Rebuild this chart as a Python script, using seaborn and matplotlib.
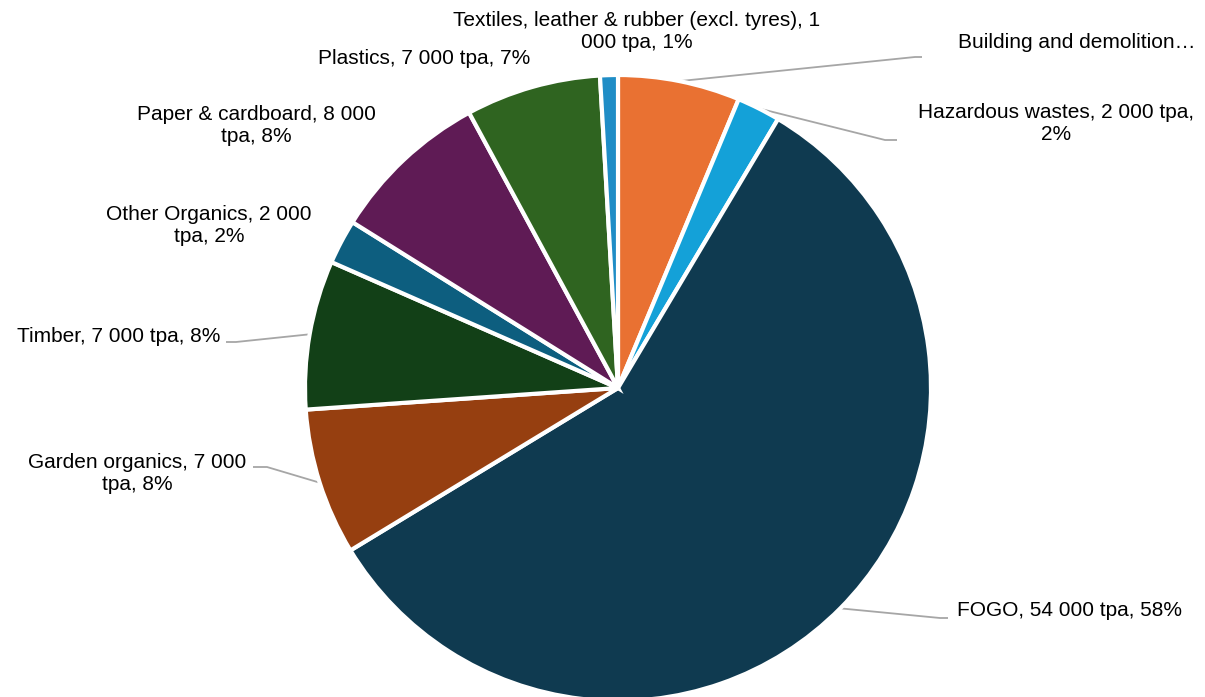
import numpy as np
import matplotlib
matplotlib.use("Agg")
import matplotlib.pyplot as plt
import seaborn as sns

# ---- data (tonnes per annum, estimated unrounded values) ----
categories = ["Building and demolition", "Hazardous wastes", "FOGO", "Garden organics",
              "Timber", "Other Organics", "Paper & cardboard", "Plastics",
              "Textiles, leather & rubber (excl. tyres)"]
tonnes = [5900, 2100, 54100, 7100, 7200, 2150, 7700, 6530, 860]
label_texts = [
    "Building and demolition\u2026",
    "Hazardous wastes, 2 000 tpa,\n2%",
    "FOGO, 54 000 tpa, 58%",
    "Garden organics, 7 000\ntpa, 8%",
    "Timber, 7 000 tpa, 8%",
    "Other Organics, 2 000\ntpa, 2%",
    "Paper & cardboard, 8 000\ntpa, 8%",
    "Plastics, 7 000 tpa, 7%",
    "Textiles, leather & rubber (excl. tyres), 1\n000 tpa, 1%",
]
colors = ["#E97132", "#14A1D8", "#0F3A50", "#963F10", "#124017",
          "#0D5E7F", "#5F1B55", "#2F6420", "#1F8DC6"]

sns.set_theme(style="white")
plt.rcParams["font.family"] = ["Liberation Sans", "DejaVu Sans"]

W, H = 1205, 697
fig = plt.figure(figsize=(W / 100, H / 100), dpi=100)
ax = fig.add_axes([0, 0, 1, 1])

cx, cy_px, R = 618, 388, 313
cy = H - cy_px

wedges, _ = ax.pie(tonnes, colors=colors, startangle=90, counterclock=False,
                   center=(cx, cy), radius=R, frame=True,
                   wedgeprops=dict(edgecolor="white", linewidth=3))
ax.set_xlim(0, W)
ax.set_ylim(0, H)
ax.set_aspect("equal")
ax.axis("off")

# label layout in pixel coordinates: (x, y, ha, leader elbow, leader end)
layout = [
    (958, 43, "left", (915, 57), (922, 57)),
    (1056, 124, "center", (885, 140), (897, 140)),
    (957, 611, "left", (940, 618), (948, 618)),
    (137, 474, "center", (267, 467), (253, 467)),
    (220, 337, "right", (236, 342), (226, 342)),
    (209, 225, "center", None, None),
    (256, 125, "center", None, None),
    (424, 59, "center", None, None),
    (637, 32, "center", None, None),
]

for w, txt, (lx, ly, ha, elbow, end) in zip(wedges, label_texts, layout):
    ax.text(lx, H - ly, txt, ha=ha, va="center", fontsize=15, color="#000000",
            linespacing=1.2)
    if elbow is not None:
        mid = np.deg2rad((w.theta1 + w.theta2) / 2)
        sx = cx + R * np.cos(mid)
        sy = cy + R * np.sin(mid)
        ax.plot([sx, elbow[0], end[0]], [sy, H - elbow[1], H - end[1]],
                color="#A6A6A6", lw=1.3, solid_capstyle="butt", zorder=0.5)

fig.savefig("out.png", dpi=100, facecolor="white")
